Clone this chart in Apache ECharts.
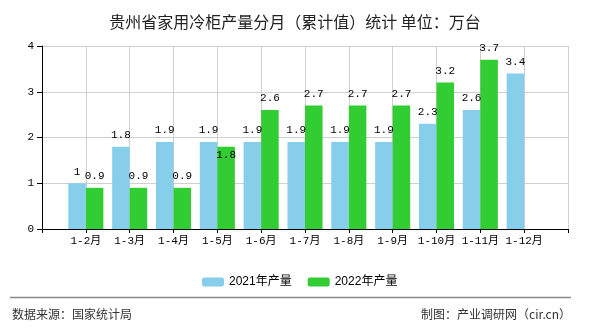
<!DOCTYPE html>
<html>
<head>
<meta charset="utf-8">
<script src="https://cdn.jsdelivr.net/npm/echarts@6/dist/echarts.min.js"></script>
<style>
html,body{margin:0;padding:0;background:#fff;}
#chart{width:590px;height:330px;}
</style>
</head>
<body>
<div id="chart"></div>
<script>
const categories = ['1-2月','1-3月','1-4月','1-5月','1-6月','1-7月','1-8月','1-9月','1-10月','1-11月','1-12月'];
const series2021 = [1, 1.8, 1.9, 1.9, 1.9, 1.9, 1.9, 1.9, 2.3, 2.6, 3.4];
const series2022 = [0.9, 0.9, 0.9, 1.8, 2.6, 2.7, 2.7, 2.7, 3.2, 3.7, null];
const yTicks = [0, 1, 2, 3, 4];
const seriesNames = ['2021年产量', '2022年产量'];
const titleText = '贵州省家用冷柜产量分月（累计值）统计 单位：万台';
const sourceText = '数据来源：国家统计局';
const creditText = '制图：产业调研网（cir.cn）';

const axisData = [''].concat(categories, ['']);
function pad(arr) { return [null].concat(arr, [null]); }

const monoFont = "'Liberation Mono','Noto Sans CJK SC',monospace";
const cjkFont = "'Noto Sans CJK SC',sans-serif";

const labelBase = {
  show: true, position: 'top', distance: 6,
  color: '#000', fontFamily: monoFont, fontSize: 11,
  formatter: p => (p.value == null ? '' : String(p.value))
};

// 2022 data: the "1-5月" label sits lower in the reference
const data2022 = pad(series2022).map((v, i) => {
  if (axisData[i] === '1-5月') return { value: v, label: { offset: [0, 20] } };
  return v;
});

const chart = echarts.init(document.getElementById('chart'), null, { renderer: 'canvas' });
chart.setOption({
  animation: false,
  backgroundColor: '#fff',
  title: {
    text: titleText, left: 'center', top: 9,
    textStyle: { fontFamily: cjkFont, fontSize: 16, fontWeight: 'normal', color: '#222' }
  },
  legend: {
    data: seriesNames, left: 197, top: 271,
    itemWidth: 22, itemHeight: 9, itemGap: 16,
    textStyle: { fontFamily: "'Liberation Sans','Noto Sans CJK SC',sans-serif", fontSize: 12, color: '#000' }
  },
  grid: { left: 42, right: 22, top: 46, bottom: 101, containLabel: false },
  xAxis: {
    type: 'category', data: axisData, boundaryGap: false,
    axisLine: { lineStyle: { color: '#000', width: 1 } },
    axisTick: { show: true, length: 4, lineStyle: { color: '#000' }, interval: 0 },
    axisLabel: { interval: 0, margin: 7, color: '#000', fontFamily: monoFont, fontSize: 11 },
    splitLine: { show: true, interval: 0, lineStyle: { color: '#d0d0d0', width: 1 } }
  },
  yAxis: {
    type: 'value', min: yTicks[0], max: yTicks[yTicks.length - 1], interval: 1,
    axisLine: { show: true, lineStyle: { color: '#000', width: 1 } },
    axisTick: { show: true, length: 5, lineStyle: { color: '#000' } },
    axisLabel: { margin: 8, color: '#000', fontFamily: monoFont, fontSize: 11 },
    splitLine: { show: true, lineStyle: { color: '#d0d0d0', width: 1 } }
  },
  series: [
    {
      name: seriesNames[0], type: 'bar', data: pad(series2021),
      barGap: '0%', barCategoryGap: '20%',
      itemStyle: { color: '#87CEEB' }, label: labelBase
    },
    {
      name: seriesNames[1], type: 'bar', data: data2022,
      barGap: '0%', barCategoryGap: '20%',
      itemStyle: { color: '#32CD32' }, label: labelBase
    }
  ],
  graphic: [
    { type: 'line', shape: { x1: 10, y1: 297.5, x2: 571, y2: 297.5 }, style: { stroke: '#888', lineWidth: 1.5 } },
    { type: 'text', left: 12, top: 308, style: { text: sourceText, font: "12px 'Noto Sans CJK SC', sans-serif", fill: '#333' } },
    { type: 'text', right: 19, top: 308, style: { text: creditText, font: "12px 'Noto Sans CJK SC', sans-serif", fill: '#333' } }
  ]
});
</script>
</body>
</html>
